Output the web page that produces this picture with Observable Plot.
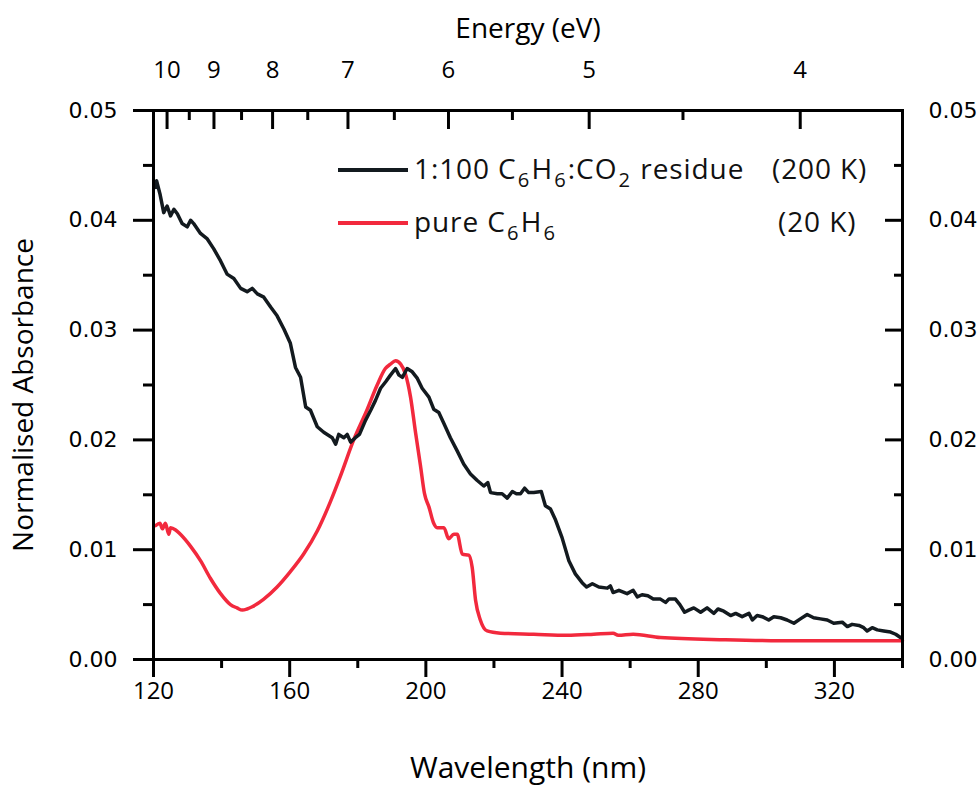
<!DOCTYPE html>
<html>
<head>
<meta charset="utf-8">
<script src="https://cdn.jsdelivr.net/npm/d3@7"></script>
<script src="https://cdn.jsdelivr.net/npm/@observablehq/plot@0.6"></script>
<style>
  body { margin: 0; background: #fff; }
  #wrap { position: relative; width: 978px; height: 789px; }
  .leg { position: absolute; font-family: "Open Sans", sans-serif; font-size: 28px; line-height: 28px; letter-spacing: 0.9px; color: #111; white-space: nowrap; }
  .leg sub { font-size: 0.72em; vertical-align: -0.4em; line-height: 0; margin: 0 0.06em; }
  .sw { position: absolute; width: 70px; height: 3.5px; }
</style>
</head>
<body>
<div id="wrap"></div>
<script>
// ---- data ----
const wavelengthResidue = [120.6,120.9,121.9,123.0,124.0,125.0,126.0,127.0,128.4,129.9,130.9,131.8,133.8,135.8,137.7,139.7,141.6,143.6,145.6,147.5,149.0,150.5,152.4,154.4,156.3,158.3,160.2,161.7,163.2,164.7,166.1,168.1,170.0,172.5,173.5,174.4,175.9,176.9,177.9,179.3,180.5,182.3,183.8,185.2,186.7,188.2,189.6,191.1,192.1,193.1,194.5,196.0,197.5,198.9,200.9,202.3,203.8,205.3,207.2,209.2,211.1,213.1,215.1,217.0,218.2,219.0,221.0,222.4,223.9,225.4,226.6,227.8,229.0,230.2,231.7,233.9,235.1,236.6,238.1,240.0,242.0,243.9,245.9,247.2,248.9,250.8,253.3,254.2,255.0,256.7,259.1,260.9,262.1,263.5,265.2,266.8,268.9,270.4,271.4,273.3,274.6,276.0,277.2,278.7,280.7,282.6,284.6,285.8,287.5,289.5,291.0,292.9,294.9,295.9,297.3,298.8,300.7,302.2,304.2,306.1,308.1,310.0,312.0,313.9,315.9,317.9,319.8,322.3,323.8,325.2,327.2,328.6,329.6,331.1,332.6,334.5,336.5,338.0,339.4];
const absorbanceResidue = [0.0430,0.0436,0.0424,0.0407,0.0413,0.0404,0.0410,0.0406,0.0397,0.0394,0.0400,0.0397,0.0388,0.0383,0.0374,0.0363,0.0351,0.0347,0.0338,0.0335,0.0338,0.0333,0.0330,0.0321,0.0313,0.0301,0.0288,0.0266,0.0257,0.0230,0.0227,0.0212,0.0207,0.0202,0.0196,0.0205,0.0202,0.0205,0.0198,0.0202,0.0205,0.0218,0.0227,0.0236,0.0247,0.0253,0.0259,0.0265,0.0259,0.0257,0.0265,0.0262,0.0256,0.0247,0.0239,0.0228,0.0225,0.0215,0.0202,0.0190,0.0178,0.0169,0.0163,0.0158,0.0161,0.0152,0.0151,0.0151,0.0147,0.0153,0.0151,0.0151,0.0156,0.0152,0.0152,0.0153,0.0140,0.0137,0.0127,0.0111,0.0090,0.0078,0.0070,0.0066,0.0069,0.0066,0.0065,0.0067,0.0061,0.0063,0.0060,0.0063,0.0057,0.0059,0.0058,0.0055,0.0055,0.0052,0.0055,0.0055,0.0050,0.0043,0.0045,0.0047,0.0043,0.0047,0.0042,0.0046,0.0044,0.0040,0.0042,0.0039,0.0042,0.0036,0.0040,0.0039,0.0036,0.0039,0.0038,0.0036,0.0033,0.0037,0.0041,0.0038,0.0037,0.0036,0.0033,0.0034,0.0030,0.0032,0.0031,0.0029,0.0026,0.0029,0.0027,0.0026,0.0025,0.0023,0.0020];

const wavelengthPure = [120.6,121.9,122.6,123.5,124.5,125.0,126.5,127.9,130.9,133.8,136.7,139.7,142.6,144.5,146.1,147.5,149.0,152.4,156.3,160.2,164.1,168.1,172.0,174.9,178.8,182.8,185.7,188.1,189.6,191.1,192.6,194.0,195.5,197.0,198.4,199.6,200.9,202.3,203.3,205.3,206.7,208.2,209.2,210.7,212.6,213.6,214.6,216.0,218.0,221.9,231.7,241.5,249.3,255.0,256.5,260.9,268.9,288.0,308.0,340.0];
const absorbancePure = [0.0122,0.0124,0.0119,0.0124,0.0114,0.0120,0.0118,0.0114,0.0103,0.0090,0.0074,0.0060,0.0050,0.0047,0.0045,0.0046,0.0048,0.0055,0.0066,0.0080,0.0096,0.0117,0.0144,0.0167,0.0200,0.0228,0.0250,0.0265,0.0269,0.0272,0.0269,0.0260,0.0239,0.0206,0.0177,0.0151,0.0139,0.0124,0.0120,0.0120,0.0110,0.0114,0.0114,0.0096,0.0095,0.0084,0.0054,0.0036,0.0026,0.0024,0.0023,0.0022,0.0023,0.0024,0.0022,0.0023,0.0020,0.0018,0.0017,0.0017];

const yMajorTicks = [0, 0.01, 0.02, 0.03, 0.04, 0.05];
const yMinorTicks = [0.005, 0.015, 0.025, 0.035, 0.045];
const xMajorTicks = [120, 160, 200, 240, 280, 320];
const xMinorTicks = [140, 180, 220, 260, 300, 340];
const energyMajorTicks = [10, 9, 8, 7, 6, 5, 4];
const energyMinorTicks = [9.5, 8.5, 7.5, 6.5, 5.5, 4.5];
const HC = 1239.84; // eV·nm

const seriesNames = ["1:100 C6H6:CO2 residue", "pure C6H6"];
const seriesTemps = ["(200 K)", "(20 K)"];
const seriesColors = ["#131a1f", "#f2293d"];

// ---- build ----
const residue = wavelengthResidue.map((x, i) => ({x, y: absorbanceResidue[i]}));
const pure = wavelengthPure.map((x, i) => ({x, y: absorbancePure[i]}));
const toNm = e => HC / e;

const FONT = "Open Sans, sans-serif";
const YFONT = "DejaVu Sans, sans-serif";
const SW = 3;

const chart = Plot.plot({
  width: 978,
  height: 789,
  marginLeft: 153,
  marginRight: 76,
  marginTop: 110,
  marginBottom: 130,
  style: {background: "white", color: "black", fontFamily: FONT, overflow: "visible"},
  x: {domain: [120, 340]},
  y: {domain: [0, 0.05]},
  marks: [
    Plot.line(pure, {x: "x", y: "y", stroke: seriesColors[1], strokeWidth: 3.5, curve: "monotone-x"}),
    Plot.line(residue, {x: "x", y: "y", stroke: seriesColors[0], strokeWidth: 3.5, strokeLinejoin: "round"}),
    Plot.frame({stroke: "black", strokeWidth: SW}),

    // left axis (outward ticks)
    Plot.axisY({anchor: "left", ticks: yMajorTicks, tickSize: 20, tickPadding: 16, strokeWidth: SW,
      tickFormat: d3.format(".2f"), fontSize: 22, fontFamily: YFONT, label: null}),
    Plot.axisY({anchor: "left", ticks: yMinorTicks, tickSize: 10, strokeWidth: SW, tickFormat: () => "", label: null}),
    // right axis (inward ticks)
    Plot.axisY({anchor: "right", ticks: yMajorTicks, tickSize: -18, strokeWidth: SW, tickFormat: () => "", label: null}),
    Plot.axisY({anchor: "right", ticks: yMinorTicks, tickSize: -9, strokeWidth: SW, tickFormat: () => "", label: null}),
    Plot.axisY({anchor: "right", ticks: yMajorTicks, tickSize: 0, tickPadding: 26,
      tickFormat: d3.format(".2f"), fontSize: 22, fontFamily: YFONT, label: null}),
    // bottom axis (outward ticks)
    Plot.axisX({anchor: "bottom", ticks: xMajorTicks, tickSize: 18, tickPadding: 4, strokeWidth: SW,
      tickFormat: d3.format("d"), fontSize: 24, label: null}),
    Plot.axisX({anchor: "bottom", ticks: xMinorTicks, tickSize: 9, strokeWidth: SW, tickFormat: () => "", label: null}),
    // top energy axis (inward ticks)
    Plot.axisX({anchor: "top", ticks: energyMajorTicks.map(toNm), tickSize: -18, strokeWidth: SW, tickFormat: () => "", label: null}),
    Plot.axisX({anchor: "top", ticks: energyMinorTicks.map(toNm), tickSize: -9, strokeWidth: SW, tickFormat: () => "", label: null}),
    Plot.axisX({anchor: "top", ticks: energyMajorTicks.map(toNm), tickSize: 0, tickPadding: 33,
      tickFormat: d => String(Math.round(HC / d)), fontSize: 24, label: null}),

    // axis titles
    Plot.text(["Wavelength (nm)"], {text: d => d, frameAnchor: "bottom", textAnchor: "middle", dy: 118, fontSize: 30, fontFamily: FONT}),
    Plot.text(["Energy (eV)"], {text: d => d, frameAnchor: "top", textAnchor: "middle", dy: -92, fontSize: 28, fontFamily: FONT}),
    Plot.text(["Normalised Absorbance"], {text: d => d, frameAnchor: "left", textAnchor: "middle", dx: -129, dy: 10, rotate: -90, fontSize: 28, fontFamily: FONT})
  ]
});

const wrap = document.getElementById("wrap");
wrap.appendChild(chart);

// legend overlay
function subscriptify(s) {
  return s.replace(/([A-Za-z])(\d+)/g, (m, a, b) => `${a}<sub>${b}</sub>`);
}
const legendRows = [{swTop: 168, txtTop: 154}, {swTop: 221, txtTop: 207}];
seriesNames.forEach((name, i) => {
  const sw = document.createElement("div");
  sw.className = "sw";
  sw.style.left = "338px";
  sw.style.top = legendRows[i].swTop + "px";
  sw.style.background = seriesColors[i];
  wrap.appendChild(sw);
  const t = document.createElement("div");
  t.className = "leg";
  t.style.left = "414px";
  t.style.top = legendRows[i].txtTop + "px";
  t.innerHTML = subscriptify(name);
  wrap.appendChild(t);
  const k = document.createElement("div");
  k.className = "leg";
  k.style.left = (i === 0 ? 772 : 778) + "px";
  k.style.top = legendRows[i].txtTop + "px";
  k.textContent = seriesTemps[i];
  wrap.appendChild(k);
});
</script>
</body>
</html>
